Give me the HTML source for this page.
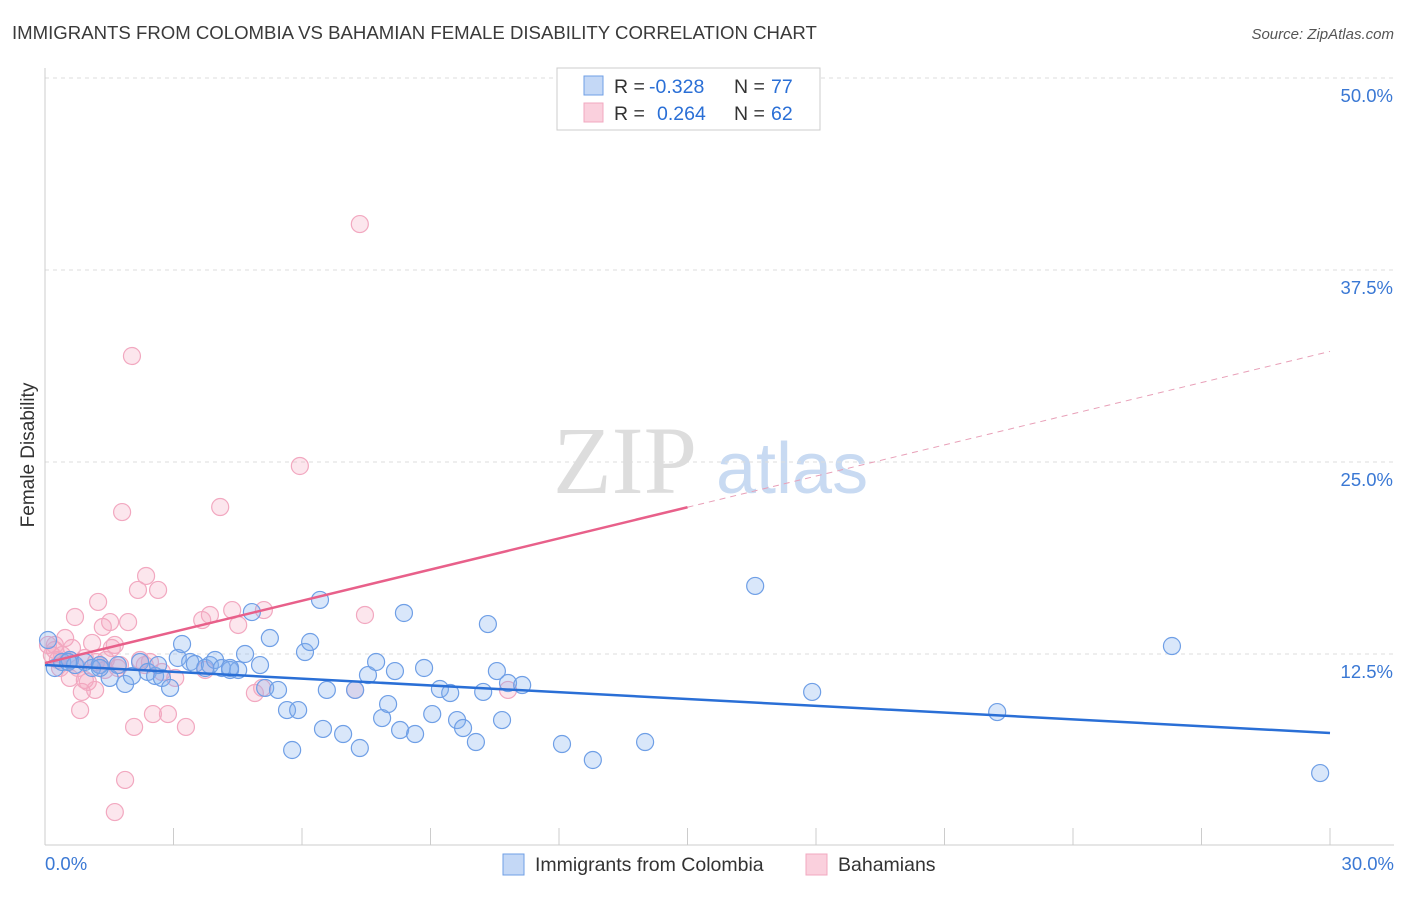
<!DOCTYPE html>
<html><head><meta charset="utf-8"><style>
body{margin:0;background:#fff;font-family:"Liberation Sans",sans-serif;}
</style></head><body>
<svg id="chart" width="1406" height="892" xmlns="http://www.w3.org/2000/svg" font-family="Liberation Sans, sans-serif">
<text x="12" y="39" font-size="18.6" fill="#3a3a3a">IMMIGRANTS FROM COLOMBIA VS BAHAMIAN FEMALE DISABILITY CORRELATION CHART</text>
<text x="1394" y="39" font-size="15" fill="#555" font-style="italic" text-anchor="end">Source: ZipAtlas.com</text>
<g>
<text x="553" y="493" font-size="96" font-family="Liberation Serif, serif" fill="#ddd">ZIP</text>
<text x="716" y="493" font-size="72" fill="#c8daf2">atlas</text>
</g>
<g id="grid"></g>
<line x1="45" y1="68" x2="45" y2="845" stroke="#ccc"/>
<line x1="45" y1="845" x2="1394" y2="845" stroke="#ccc"/>
<g id="ticks"></g>
<text transform="translate(34,455) rotate(-90)" font-size="19" fill="#333" text-anchor="middle">Female Disability</text>
<g id="marks"></g>
<g id="trends"></g>
<g>
<rect x="557" y="68" width="263" height="62" fill="#fff" stroke="#ccc"/>
<rect x="584" y="76" width="19" height="19" fill="#c4d8f6" stroke="#6f9fe6"/>
<rect x="584" y="103" width="19" height="19" fill="#fad0dd" stroke="#f2a8c0"/>
<text x="614" y="93" font-size="19.5" fill="#333">R =</text>
<text x="649" y="93" font-size="19.5" fill="#2a6fd6">-0.328</text>
<text x="734" y="93" font-size="19.5" fill="#333">N =</text>
<text x="771" y="93" font-size="19.5" fill="#2a6fd6">77</text>
<text x="614" y="120" font-size="19.5" fill="#333">R =</text>
<text x="657" y="120" font-size="19.5" fill="#2a6fd6">0.264</text>
<text x="734" y="120" font-size="19.5" fill="#333">N =</text>
<text x="771" y="120" font-size="19.5" fill="#2a6fd6">62</text>
</g>
<text x="45" y="870" font-size="18.5" fill="#3a78d4">0.0%</text>
<text x="1394" y="870" font-size="18.5" fill="#3a78d4" text-anchor="end">30.0%</text>
<g>
<rect x="503" y="854" width="21" height="21" fill="#c4d8f6" stroke="#6f9fe6"/>
<text x="535" y="871" font-size="19.5" fill="#333">Immigrants from Colombia</text>
<rect x="806" y="854" width="21" height="21" fill="#fad0dd" stroke="#f2a8c0"/>
<text x="838" y="871" font-size="19.5" fill="#333">Bahamians</text>
</g>
</svg>
<script>
const yTicks=[12.5,25,37.5,50];
const yTickLabels=["12.5%","25.0%","37.5%","50.0%"];
const xTickVals=[0,3,6,9,12,15,18,21,24,27,30];
const blueX=[0.07,0.23,0.40,0.58,0.70,0.93,1.10,1.28,1.51,1.70,1.87,2.03,2.22,2.40,2.57,2.73,2.92,3.10,3.20,3.39,3.50,3.74,3.85,3.97,4.13,4.32,4.51,4.67,4.83,5.02,5.14,5.25,5.44,5.65,5.77,5.91,6.07,6.19,6.42,6.49,6.58,6.96,7.24,7.35,7.54,7.73,7.87,8.01,8.17,8.29,8.38,8.64,8.85,9.04,9.22,9.46,9.62,9.76,10.06,10.23,10.34,10.55,10.67,10.81,11.14,12.07,12.79,14.01,16.58,17.91,22.23,26.31,29.77,1.28,0.54,2.64,4.32];
const blueY=[13.41,11.59,11.98,12.11,11.78,11.98,11.59,11.78,10.94,11.78,10.55,11.07,11.98,11.33,11.07,10.94,10.29,12.24,13.15,11.98,11.85,11.59,11.78,12.11,11.59,11.46,11.46,12.50,15.23,11.78,10.29,13.54,10.16,8.85,6.25,8.85,12.63,13.28,16.02,7.62,10.16,7.29,10.16,6.38,11.13,11.98,8.33,9.24,11.39,7.55,15.17,7.29,11.59,8.59,10.22,9.96,8.20,7.68,6.77,10.03,14.45,11.39,8.20,10.61,10.48,6.64,5.60,6.77,16.93,10.03,8.72,13.02,4.75,11.59,11.98,11.78,11.59];
const pinkX=[0.07,0.16,0.23,0.30,0.40,0.47,0.58,0.63,0.70,0.82,0.86,0.93,1.00,1.10,1.17,1.24,1.28,1.35,1.42,1.52,1.56,1.63,1.70,1.80,1.87,1.94,2.03,2.08,2.17,2.22,2.36,2.45,2.52,2.64,2.73,2.87,3.04,3.29,3.67,3.74,3.85,4.09,4.37,4.51,4.90,5.07,5.11,5.95,7.24,7.35,7.47,10.81,1.63,0.35,0.77,1.19,1.75,1.40,0.58,0.93,0.23,2.33];
const pinkY=[13.09,12.43,12.76,12.11,12.43,13.54,10.94,12.89,14.91,8.85,10.03,10.81,10.68,13.22,10.16,15.89,11.78,14.26,12.11,14.58,12.89,13.09,11.59,21.74,4.30,14.58,31.90,7.75,16.67,12.11,17.58,11.98,8.59,16.67,11.33,8.59,10.94,7.75,14.71,11.46,15.04,22.07,15.36,14.39,9.96,10.29,15.36,24.74,10.16,40.49,15.04,10.16,2.21,11.59,11.59,11.98,11.78,11.46,12.11,12.24,13.09,11.78];
const blueTrend=[11.78,7.36];
const pinkTrend=[11.91,32.2];
const pinkSolidEnd=15;
const X0=45,X1=1330,Y0=846,PXPER=192/12.5;
const sx=v=>X0+(v/30)*(X1-X0);
const sy=v=>Y0-v*PXPER;
const NS="http://www.w3.org/2000/svg";
function mk(tag,attrs,parent){const e=document.createElementNS(NS,tag);for(const k in attrs)e.setAttribute(k,attrs[k]);parent.appendChild(e);return e;}
const grid=document.getElementById('grid'),ticks=document.getElementById('ticks'),marks=document.getElementById('marks'),trends=document.getElementById('trends');
yTicks.forEach((t,i)=>{
 const l=mk('line',{x1:45,x2:1394,y1:sy(t),y2:sy(t),stroke:'#ddd','stroke-dasharray':'4,4'},grid);
 
 
 const tx=mk('text',{x:1393,y:sy(t)+24,'font-size':18.5,fill:'#3a78d4','text-anchor':'end'},ticks);
 tx.textContent=yTickLabels[i];
 
 
});
xTickVals.forEach(v=>{
 const l=mk('line',{x1:sx(v),x2:sx(v),y1:828,y2:845,stroke:'#ccc'},ticks);
 
 
});
function pts(xs,ys,fill,stroke,name){
 xs.forEach((x,i)=>{
  const c=mk('circle',{cx:sx(x),cy:sy(ys[i]),r:8.5,fill:fill,stroke:stroke,'stroke-width':1.2},marks);
  
  
 });
}
pts(pinkX,pinkY,'rgba(245,165,192,0.28)','#f2a8c0','bahamians-point');
pts(blueX,blueY,'rgba(130,175,238,0.3)','#6f9fe6','colombia-point');
const bl=mk('line',{x1:sx(0),y1:sy(blueTrend[0]),x2:sx(30),y2:sy(blueTrend[1]),stroke:'#2a6fd6','stroke-width':2.5},trends);


const pm=pinkTrend[0]+(pinkTrend[1]-pinkTrend[0])*pinkSolidEnd/30;
const pl=mk('line',{x1:sx(0),y1:sy(pinkTrend[0]),x2:sx(pinkSolidEnd),y2:sy(pm),stroke:'#e8608a','stroke-width':2.5},trends);


const pd=mk('line',{x1:sx(pinkSolidEnd),y1:sy(pm),x2:sx(30),y2:sy(pinkTrend[1]),stroke:'#e8a0b8','stroke-width':1,'stroke-dasharray':'6,5'},trends);


</script>
</body></html>
